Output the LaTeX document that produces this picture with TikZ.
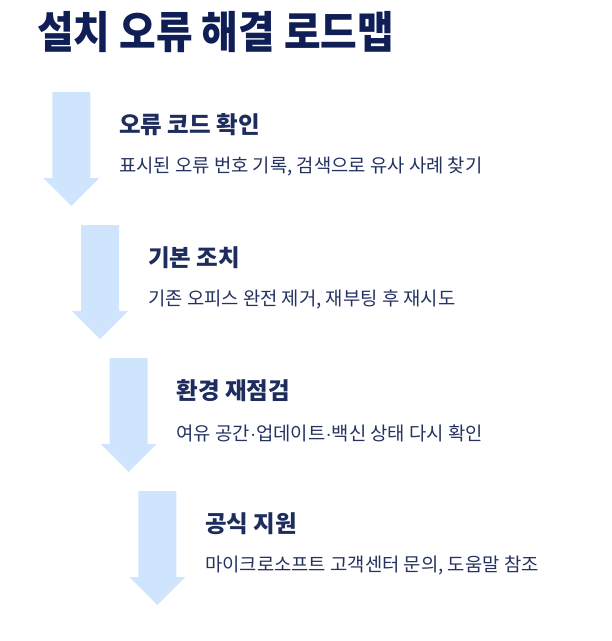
\documentclass[tikz,border=0pt]{standalone}
\usepackage{fontspec}
\setmainfont{Noto Sans CJK KR}
\newfontfamily\titlefont[FakeStretch=0.905]{Noto Sans CJK KR}
\newfontfamily\dotfont{Liberation Sans}
\newcommand{\mdot}{{\dotfont ·}}
\definecolor{arrowblue}{HTML}{CFE5FD}
\definecolor{titlenavy}{HTML}{0F1E55}
\definecolor{headnavy}{HTML}{1E2D5E}
\definecolor{descnavy}{HTML}{243260}
\begin{document}
\begin{tikzpicture}[x=1pt,y=-1pt,
  titletext/.style={anchor=west,inner sep=0pt,text=titlenavy,font=\titlefont\fontsize{44pt}{52pt}\selectfont\bfseries},
  headtext/.style={anchor=west,inner sep=0pt,text=headnavy,font=\fontsize{23.5pt}{28pt}\selectfont\bfseries},
  desctext/.style={anchor=west,inner sep=0pt,text=descnavy,font=\fontsize{18.8pt}{22pt}\selectfont},
  arrowshape/.style={fill=arrowblue,draw=none}]
\useasboundingbox (0,0) rectangle (612,641);
\node[titletext] (title) at (37,32) {설치 오류 해결 로드맵};
\foreach \i in {0,1,2,3}{
  \pgfmathsetmacro{\cx}{71.3+28.7*\i}
  \pgfmathsetmacro{\ty}{92+133*\i}
  \fill[arrowshape] (\cx-19,\ty) -- (\cx+19,\ty) -- (\cx+19,\ty+86) -- (\cx+28,\ty+86)
     -- (\cx,\ty+114) -- (\cx-28,\ty+86) -- (\cx-19,\ty+86) -- cycle;
}
\node[headtext] (h1) at (119,124.5) {오류 코드 확인};
\node[desctext] (d1) at (119,166.5) {표시된 오류 번호 기록, 검색으로 유사 사례 찾기};
\node[headtext] (h2) at (148,258) {기본 조치};
\node[desctext] (d2) at (148,299.5) {기존 오피스 완전 제거, 재부팅 후 재시도};
\node[headtext] (h3) at (176.5,391) {환경 재점검};
\node[desctext] (d3) at (176.5,433) {여유 공간\mdot 업데이트\mdot 백신 상태 다시 확인};
\node[headtext] (h4) at (205,523.5) {공식 지원};
\node[desctext] (d4) at (205,565) {마이크로소프트 고객센터 문의, 도움말 참조};
\end{tikzpicture}
\end{document}
